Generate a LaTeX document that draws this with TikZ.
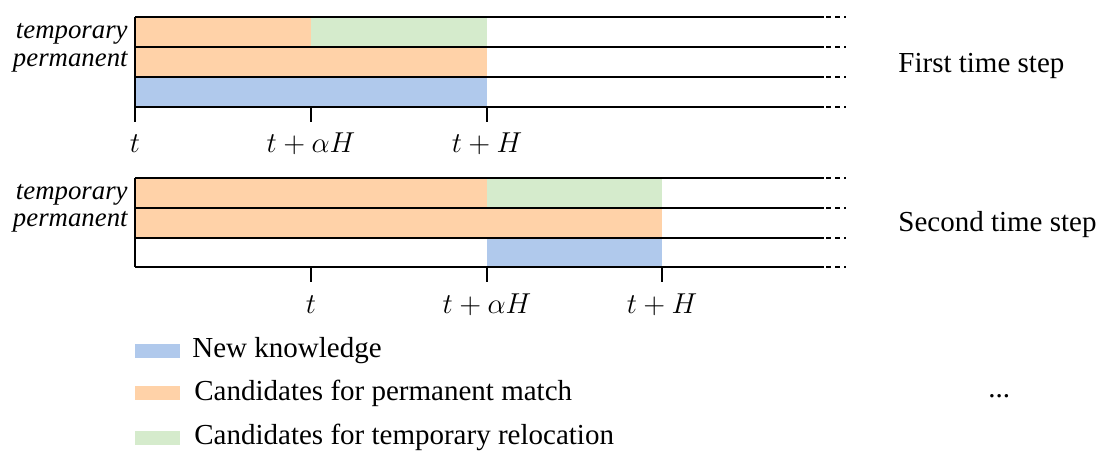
\documentclass[tikz,border=0pt]{standalone}
\usepackage{fontspec}
\setmainfont{Liberation Serif}
\usepackage{xcolor}
\usetikzlibrary{positioning}
\definecolor{newblue}{RGB}{176,201,236}
\definecolor{permorange}{RGB}{255,210,168}
\definecolor{tempgreen}{RGB}{213,235,204}

\begin{document}
\begin{tikzpicture}[
        x=0.5pt, y=-0.5pt,
        every node/.style={inner sep=0pt},
        rowline/.style={line width=0.9pt},
        tail/.style={line width=0.9pt, dash pattern=on 2.5pt off 2pt},
        rowlabel/.style={anchor=east, font=\fontsize{13.4}{15}\selectfont\itshape},
        timelabel/.style={font=\fontsize{15.5}{18}\selectfont},
        steplabel/.style={anchor=west, font=\fontsize{14.5}{17}\selectfont},
        legendtext/.style={anchor=west, font=\fontsize{14.5}{17}\selectfont}
      ]
        \useasboundingbox (0,0) rectangle (1102,451);

        % first time step
        \fill[permorange] (135,17) rectangle (311,47);
        \fill[tempgreen] (311,17) rectangle (487,47);
        \fill[permorange] (135,47) rectangle (487,77);
        \fill[newblue] (135,77) rectangle (487,107);
        \foreach \y in {17,47,77,107} {
          \draw[rowline] (135,\y) -- (824,\y);
          \draw[tail] (826,\y) -- (846,\y);
        }
        \draw[rowline] (135,17) -- (135,122);
        \foreach \x in {311,487}
          \draw[rowline] (\x,107) -- (\x,122);
        \node[rowlabel] (tmp1) at (128,34) {temporary};
        \node[rowlabel] (perm1) at (128,62) {permanent};
        \node[timelabel] (ta) at (135,144) {$t$};
        \node[timelabel] (tb) at (311,144) {$t+\alpha H$};
        \node[timelabel] (tc) at (487,144) {$t+H$};
        \node[steplabel] (step1) at (898,66) {First time step};

        % second time step
        \fill[permorange] (135,178) rectangle (487,208);
        \fill[tempgreen] (487,178) rectangle (662,208);
        \fill[permorange] (135,208) rectangle (662,238);
        \fill[newblue] (487,238) rectangle (662,267);
        \foreach \y in {178,208,238,267} {
          \draw[rowline] (135,\y) -- (824,\y);
          \draw[tail] (826,\y) -- (846,\y);
        }
        \draw[rowline] (135,178) -- (135,267);
        \foreach \x in {311,487,662}
          \draw[rowline] (\x,267) -- (\x,282);
        \node[rowlabel] (tmp2) at (128,195) {temporary};
        \node[rowlabel] (perm2) at (128,222) {permanent};
        \node[timelabel] (sa) at (311,305) {$t$};
        \node[timelabel] (sb) at (487,305) {$t+\alpha H$};
        \node[timelabel] (sc) at (662,305) {$t+H$};
        \node[steplabel] (step2) at (898,225) {Second time step};

        % legend
        \fill[newblue] (135,344) rectangle (180,358);
        \fill[permorange] (135,386) rectangle (180,400);
        \fill[tempgreen] (135,431) rectangle (180,445);
        \node[legendtext] (lnew) at (192,351) {New knowledge};
        \node[legendtext] (lperm) at (194,393) {Candidates for permanent match};
        \node[legendtext] (ltemp) at (194,437) {Candidates for temporary relocation};
        \node[legendtext] (more) at (988,396) {...};
      \end{tikzpicture}
\end{document}
